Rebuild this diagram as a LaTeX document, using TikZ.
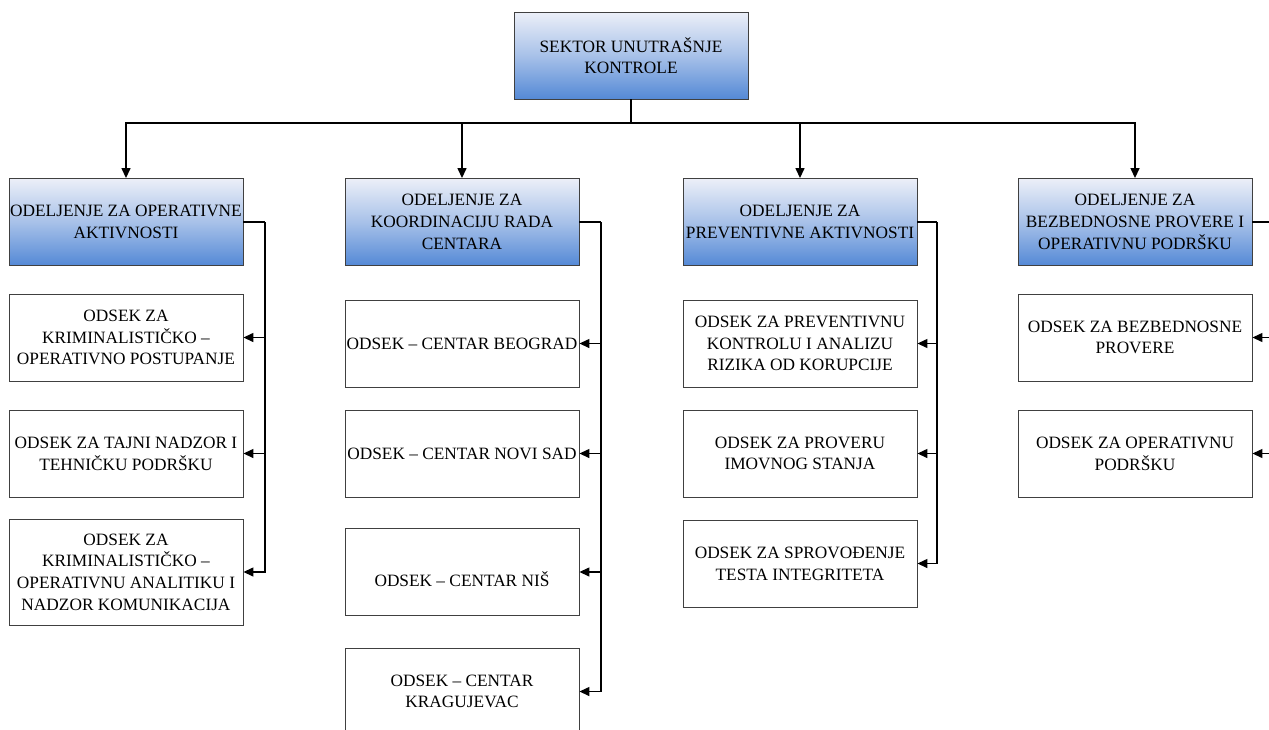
\documentclass[tikz,border=0pt]{standalone}
\usepackage{fontspec}
\setmainfont{Liberation Serif}
\usetikzlibrary{arrows.meta}
\definecolor{boxgray}{RGB}{64,64,64}
\definecolor{gtop}{RGB}{236,239,248}
\definecolor{gbot}{RGB}{84,137,214}
\tikzset{
  box/.style={draw=boxgray, line width=0.9pt, minimum width=234pt, minimum height=87pt,
    align=center, inner sep=0pt, text=black, font=\fontsize{17.3}{21.7}\selectfont},
  headbox/.style={box, top color=gtop, bottom color=gbot, middle color=gtop!55!gbot},
  conn/.style={draw=black, line width=1.4pt},
  arr/.style={conn, -{Triangle[length=10pt,width=9pt]}}
}
\begin{document}
\begin{tikzpicture}[x=1pt,y=-1pt]
\useasboundingbox (0,0) rectangle (1269,729);
\clip (0,0) rectangle (1269,729);
\fill[white] (0,0) rectangle (1269,729);

\node[headbox] (top) at (631,55.5) {SEKTOR UNUTRAŠNJE\\KONTROLE};

\node[headbox] (d1) at (126,222) {ODELJENJE ZA OPERATIVNE\\AKTIVNOSTI};
\node[headbox] (d2) at (462,222) {ODELJENJE ZA\\KOORDINACIJU RADA\\CENTARA};
\node[headbox] (d3) at (800,222) {ODELJENJE ZA\\PREVENTIVNE AKTIVNOSTI};
\node[headbox] (d4) at (1135,222) {ODELJENJE ZA\\BEZBEDNOSNE PROVERE I\\OPERATIVNU PODRŠKU};

\node[box] (c11) at (126,337.5) {ODSEK ZA\\KRIMINALISTIČKO –\\OPERATIVNO POSTUPANJE};
\node[box] (c12) at (126,453.5) {ODSEK ZA TAJNI NADZOR I\\TEHNIČKU PODRŠKU};
\node[box, minimum height=106pt] (c13) at (126,572) {ODSEK ZA\\KRIMINALISTIČKO –\\OPERATIVNU ANALITIKU I\\NADZOR KOMUNIKACIJA};

\node[box] (c21) at (462,343.5) {ODSEK – CENTAR BEOGRAD};
\node[box] (c22) at (462,453.5) {ODSEK – CENTAR NOVI SAD};
\node[box] (c23) at (462,572) {\rule{0pt}{30pt}ODSEK – CENTAR NIŠ};
\node[box] (c24) at (462,691.5) {ODSEK – CENTAR\\KRAGUJEVAC};

\node[box] (c31) at (800,343.5) {ODSEK ZA PREVENTIVNU\\KONTROLU I ANALIZU\\RIZIKA OD KORUPCIJE};
\node[box] (c32) at (800,453.5) {ODSEK ZA PROVERU\\IMOVNOG STANJA};
\node[box] (c33) at (800,563.5) {ODSEK ZA SPROVOĐENJE\\TESTA INTEGRITETA};

\node[box] (c41) at (1135,337.5) {ODSEK ZA BEZBEDNOSNE\\PROVERE};
\node[box] (c42) at (1135,453.5) {ODSEK ZA OPERATIVNU\\PODRŠKU};

% top bus
\coordinate (bus) at (631,123);
\draw[conn] (top.south) -- (bus);
\draw[arr] (bus) -| (d1.north);
\draw[arr] (bus) -| (d2.north);
\draw[arr] (bus) -| (d3.north);
\draw[arr] (bus) -| (d4.north);

% column connectors
\coordinate (v1) at (265,222);
\coordinate (v2) at (601,222);
\coordinate (v3) at (937,222);
\coordinate (v4) at (1274,222);
\draw[conn] (d1.east) -- (v1);
\draw[conn] (d2.east) -- (v2);
\draw[conn] (d3.east) -- (v3);
\draw[conn] (d4.east) -- (v4);

\draw[arr] (v1) |- (c11.east);
\draw[arr] (v1) |- (c12.east);
\draw[arr] (v1) |- (c13.east);

\draw[arr] (v2) |- (c21.east);
\draw[arr] (v2) |- (c22.east);
\draw[arr] (v2) |- (c23.east);
\draw[arr] (v2) |- (c24.east);

\draw[arr] (v3) |- (c31.east);
\draw[arr] (v3) |- (c32.east);
\draw[arr] (v3) |- (c33.east);

\draw[arr] (v4) |- (c41.east);
\draw[arr] (v4) |- (c42.east);
\end{tikzpicture}
\end{document}
